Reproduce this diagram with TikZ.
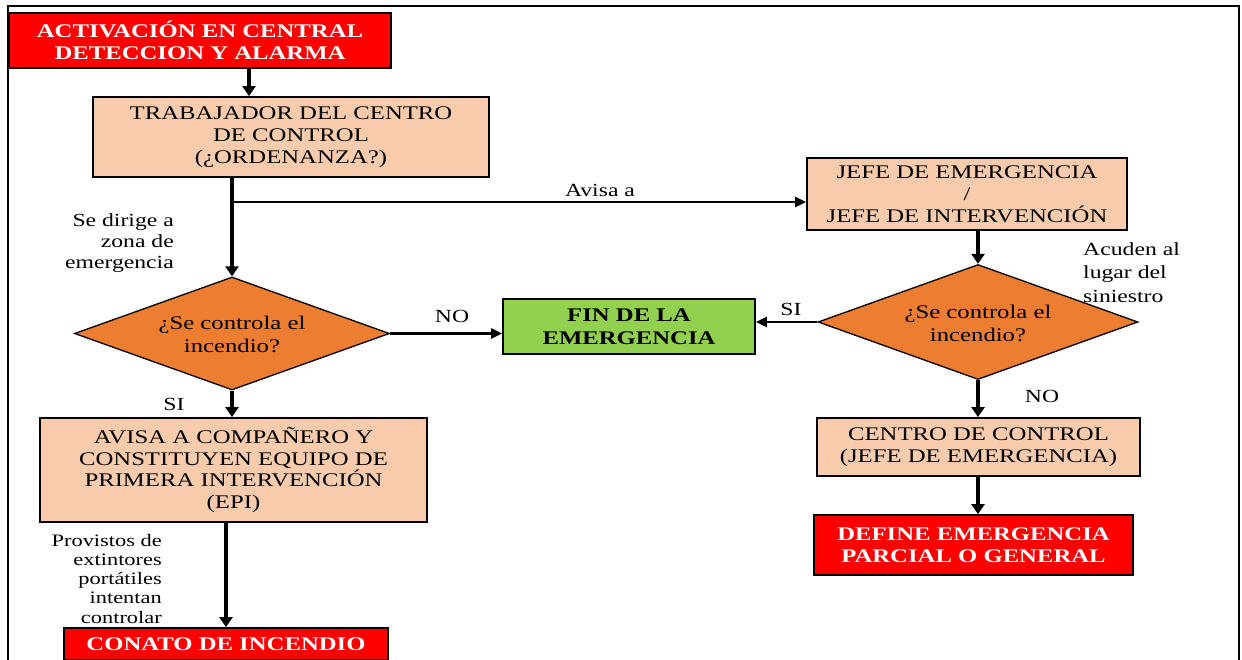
\documentclass[tikz,border=0pt]{standalone}
\usepackage{fontspec}
\setmainfont{Liberation Serif}[FakeStretch=1.28]
\usetikzlibrary{shapes.geometric,arrows.meta}
\definecolor{peach}{HTML}{F8CBAD}
\definecolor{flame}{HTML}{ED7D31}
\definecolor{leaf}{HTML}{92D050}
\definecolor{alarm}{HTML}{FF0000}
\begin{document}
\begin{tikzpicture}[x=1pt,y=-1pt,
  txt/.style={font=\fontsize{19.3}{21.8}\selectfont, align=center, inner sep=0pt},
  box/.style={txt, draw=black, line width=1.8pt},
  stepbox/.style={box, fill=peach},
  alertbox/.style={box, fill=alarm, text=white, font=\bfseries\fontsize{19.3}{22.5}\selectfont},
  endbox/.style={box, fill=leaf, font=\bfseries\fontsize{19.3}{23}\selectfont},
  decision/.style={diamond, draw=black, line width=1.3pt, fill=flame, inner sep=0pt},
  lbl/.style={font=\fontsize{18.5}{21}\selectfont, inner sep=0pt},
  flow/.style={line width=3.2pt, -{Triangle[length=10pt,width=13pt]}},
  side/.style={line width=2.3pt, -{Triangle[length=11pt,width=10pt]}}
]
\useasboundingbox (0,0) rectangle (1242,660);

% outer frame
\draw[line width=2pt] (8,664) -- (8,6) -- (1239,6) -- (1239,664);

% left column
\node[alertbox, minimum width=382pt, minimum height=55pt] (alarm) at (200,40.5)
  {ACTIVACIÓN EN CENTRAL\\DETECCION Y ALARMA};
\node[stepbox, minimum width=396pt, minimum height=80pt] (worker) at (291,137)
  {TRABAJADOR DEL CENTRO\\DE CONTROL\\(¿ORDENANZA?)};
\node[decision, minimum width=315pt, minimum height=113pt] (qleft) at (232,333.5) {};
\node[txt, font=\fontsize{19.3}{23}\selectfont] at (232,334) {¿Se controla el\\incendio?};
\node[stepbox, minimum width=387pt, minimum height=104pt] (epi) at (233.5,470)
  {AVISA A COMPAÑERO Y\\CONSTITUYEN EQUIPO DE\\PRIMERA INTERVENCIÓN\\(EPI)};
\node[alertbox, minimum width=324pt, minimum height=32pt] (conato) at (226,644)
  {CONATO DE INCENDIO};

% centre
\node[endbox, minimum width=252pt, minimum height=55pt] (fin) at (629,326.5)
  {FIN DE LA\\EMERGENCIA};

% right column
\node[stepbox, minimum width=320pt, minimum height=72pt] (chief) at (967,194)
  {JEFE DE EMERGENCIA\\/\\JEFE DE INTERVENCIÓN};
\node[decision, minimum width=320pt, minimum height=115pt] (qright) at (978,322) {};
\node[txt, font=\fontsize{19.3}{23}\selectfont] at (978,323) {¿Se controla el\\incendio?};
\node[stepbox, minimum width=323pt, minimum height=58pt] (centre) at (978.5,447)
  {CENTRO DE CONTROL\\(JEFE DE EMERGENCIA)};
\node[alertbox, minimum width=319pt, minimum height=60pt] (define) at (973.5,545)
  {DEFINE EMERGENCIA\\PARCIAL O GENERAL};

% connectors
\draw[flow] (alarm.south -| 249,0) -- (worker.north -| 249,0);
\coordinate (split) at (232,202);
\draw[flow] (worker.south -| split) -- (qleft.north);
\draw[side] (split) -- (split -| chief.west);
\draw[side] (qleft.east) -- (qleft.east -| fin.west);
\draw[flow] (qleft.south) -- (epi.north -| qleft.south);
\draw[flow] (epi.south -| conato.north) -- (conato.north);
\draw[flow] (chief.south -| qright.north) -- (qright.north);
\draw[side] (qright.west) -- (qright.west -| fin.east);
\draw[flow] (qright.south) -- (centre.north -| qright.south);
\draw[flow] (centre.south -| 978,0) -- (define.north -| 978,0);

% labels
\node[lbl] (avisa) at (600,190) {Avisa a};
\node[lbl, align=right, anchor=north east] (dirige) at (174,213)
  {Se dirige a\\zona de\\emergencia};
\node[lbl] (noleft) at (452,316) {NO};
\node[lbl] (sileft) at (174,404) {SI};
\node[lbl] (siright) at (791,309) {SI};
\node[lbl] (noright) at (1042,396) {NO};
\node[lbl, align=left, anchor=north west, font=\fontsize{18.5}{23.5}\selectfont] (acuden) at (1083,242)
  {Acuden al\\lugar del\\siniestro};
\node[lbl, align=right, anchor=north east, font=\fontsize{17.5}{19.2}\selectfont] (provistos) at (162,534)
  {Provistos de\\extintores\\portátiles\\intentan\\controlar};
\end{tikzpicture}
\end{document}
